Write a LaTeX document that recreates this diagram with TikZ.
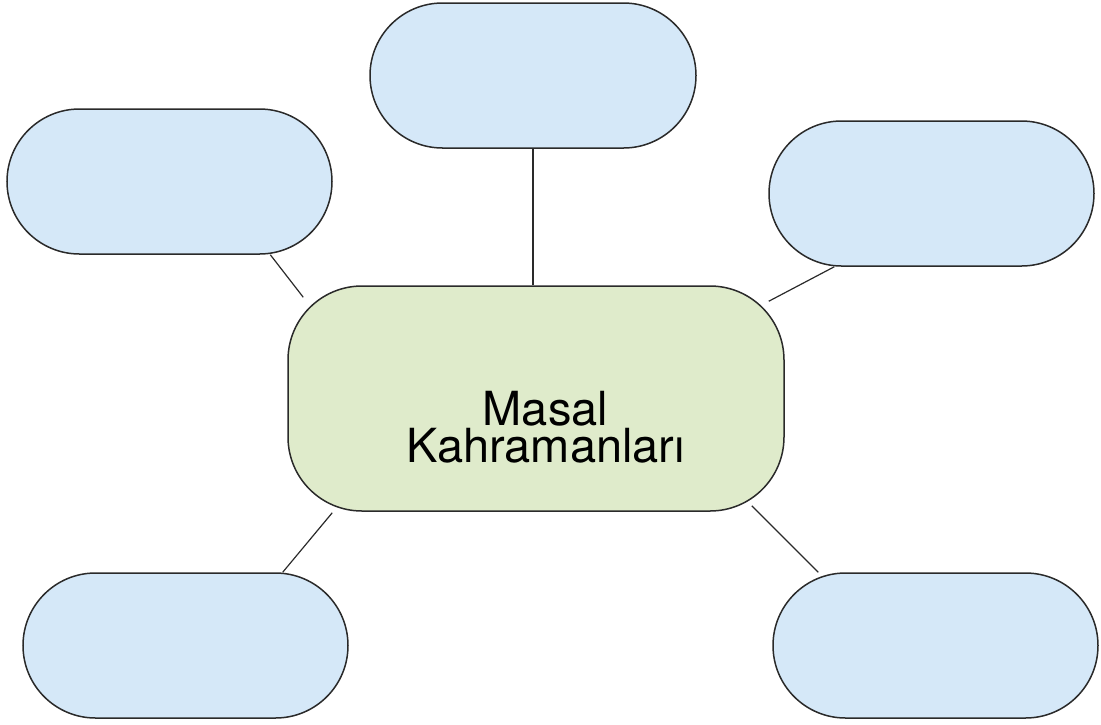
\documentclass[tikz,border=0pt]{standalone}
\usepackage{fontspec}
\setmainfont{TeX Gyre Heros}
\usepackage{tikz}
\usetikzlibrary{calc}
\definecolor{boxblue}{HTML}{D5E8F8}
\definecolor{boxgreen}{HTML}{DFEBCB}
\definecolor{edgegray}{HTML}{2A2A2A}
\tikzstyle{bubble} = [draw=edgegray, line width=1.5pt, fill=boxblue, rectangle, rounded corners=72.5pt, minimum width=325pt, minimum height=145pt, inner sep=0pt]
\tikzstyle{hub} = [draw=edgegray, line width=1.5pt, fill=boxgreen, rectangle, rounded corners=74pt, minimum width=496pt, minimum height=225pt, inner sep=0pt]
\tikzstyle{line} = [draw=edgegray, line width=1.2pt]

\begin{document}
\begin{tikzpicture}[x=1pt,y=-1pt]
      \useasboundingbox (0,0) rectangle (1101,724);

      % centre box
      \node[hub] (c) at (536,398.5) {};
      \node[inner sep=0pt, align=center, font=\fontsize{47}{37}\selectfont] (ctext) at (545.5,427.5) {Masal\\Kahramanları};

      % blue boxes
      \node[bubble, minimum width=326pt] (t) at (533,75.5) {};
      \node[bubble] (tl) at (169.5,181.5) {};
      \node[bubble] (r) at (931.5,193.5) {};
      \node[bubble] (bl) at (185.5,645.5) {};
      \node[bubble] (br) at (935.5,645.5) {};

      % connectors
      \coordinate (c-tl) at ($(c.north west)+(16,12)$);
      \coordinate (c-r) at ($(c.north east)+(-16,16)$);
      \coordinate (c-bl) at ($(c.south west)+(45,1)$);
      \coordinate (c-br) at ($(c.south east)+(-33,-6)$);
      \draw[line] (t.south) -- (t.south |- c.north);
      \draw[line] (tl.-36) -- (c-tl);
      \draw[line] (r.-143) -- (c-r);
      \draw[line] (bl.37) -- (c-bl);
      \draw[line] (br.148) -- (c-br);
    \end{tikzpicture}
\end{document}
